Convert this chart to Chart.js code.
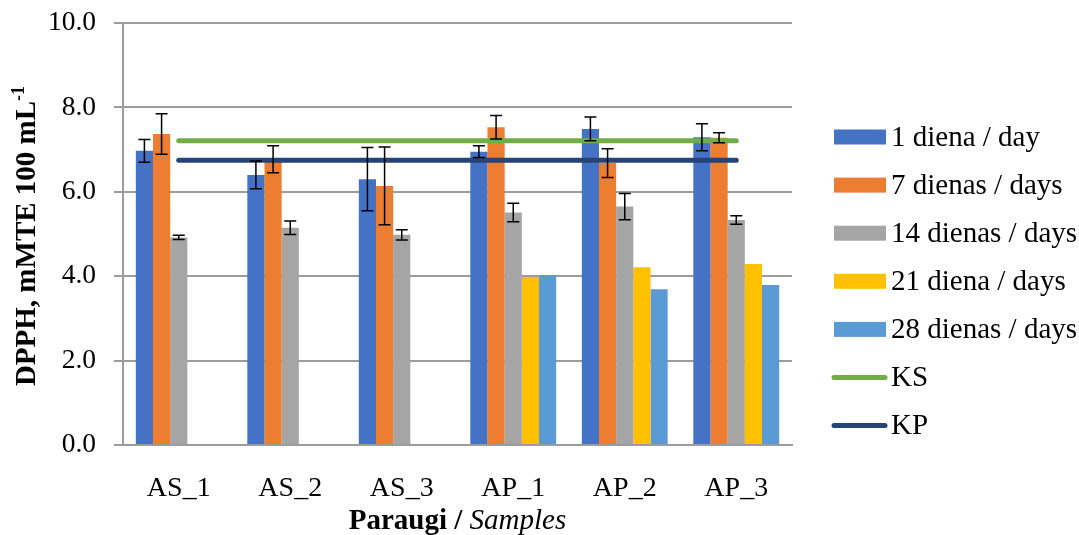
<!DOCTYPE html>
<html>
<head>
<meta charset="utf-8">
<script src="https://cdn.jsdelivr.net/npm/chart.js@4/dist/chart.umd.min.js"></script>
<style>
  body { margin: 0; background: #fff; }
  #wrap { width: 1079px; height: 535px; position: relative; }
</style>
</head>
<body>
<div id="wrap"><canvas id="dpphChart"></canvas></div>
<script>
// Samples on the x axis
const samples = ['AS_1', 'AS_2', 'AS_3', 'AP_1', 'AP_2', 'AP_3'];

// Means per storage time
const day1 = [6.97, 6.40, 6.30, 6.95, 7.49, 7.29];
const day7 = [7.37, 6.77, 6.14, 7.53, 6.68, 7.28];
const day14 = [4.92, 5.15, 4.98, 5.51, 5.65, 5.33];
const day21 = [null, null, null, 3.98, 4.21, 4.29];
const day28 = [null, null, null, 4.03, 3.69, 3.79];

// Error bar half widths (+/-)
const day1Err = [0.27, 0.33, 0.75, 0.14, 0.28, 0.32];
const day7Err = [0.48, 0.32, 0.92, 0.28, 0.34, 0.12];
const day14Err = [0.05, 0.16, 0.12, 0.22, 0.31, 0.10];

// Control levels
const ksLevel = [7.21, 7.21, 7.21, 7.21, 7.21, 7.21];
const kpLevel = [6.75, 6.75, 6.75, 6.75, 6.75, 6.75];

const yTicks = [0, 2, 4, 6, 8, 10];

const FONT = "'Liberation Serif', 'Times New Roman', serif";
const GRID = '#9c9c9c';

// Draws +/- error bars on top of the bars
const errorBars = {
  id: 'errorBars',
  afterDatasetsDraw(chart) {
    const { ctx } = chart;
    const yScale = chart.scales.y;
    ctx.save();
    ctx.strokeStyle = '#000';
    ctx.lineWidth = 1.5;
    chart.data.datasets.forEach((ds, i) => {
      if (!ds.errors) return;
      const meta = chart.getDatasetMeta(i);
      meta.data.forEach((bar, j) => {
        const v = ds.data[j];
        const e = ds.errors[j];
        if (v == null || e == null) return;
        const top = yScale.getPixelForValue(v + e);
        const bottom = yScale.getPixelForValue(v - e);
        const x = bar.x;
        ctx.beginPath();
        ctx.moveTo(x, top);
        ctx.lineTo(x, bottom);
        ctx.moveTo(x - 6, top);
        ctx.lineTo(x + 6, top);
        ctx.moveTo(x - 6, bottom);
        ctx.lineTo(x + 6, bottom);
        ctx.stroke();
      });
    });
    ctx.restore();
  },
};

// Axis titles (mixed bold / italic and a superscript) and the legend
const decorations = {
  id: 'decorations',
  afterDraw(chart) {
    const { ctx, chartArea } = chart;
    ctx.save();
    ctx.fillStyle = '#000';
    ctx.textBaseline = 'alphabetic';

    // x title
    const boldPart = 'Paraugi / ';
    const italicPart = 'Samples';
    ctx.font = `bold 29px ${FONT}`;
    const w1 = ctx.measureText(boldPart).width;
    ctx.font = `italic 29px ${FONT}`;
    const w2 = ctx.measureText(italicPart).width;
    const cx = (chartArea.left + chartArea.right) / 2;
    const x0 = cx - (w1 + w2) / 2;
    ctx.font = `bold 29px ${FONT}`;
    ctx.textAlign = 'left';
    ctx.fillText(boldPart, x0, 529);
    ctx.font = `italic 29px ${FONT}`;
    ctx.fillText(italicPart, x0 + w1, 529);

    // y title, rotated
    const mainText = 'DPPH, mMTE 100 mL';
    const supText = '-1';
    ctx.font = `bold 29px ${FONT}`;
    const m1 = ctx.measureText(mainText).width;
    ctx.font = `bold 18px ${FONT}`;
    const m2 = ctx.measureText(supText).width;
    ctx.translate(35, 236);
    ctx.rotate(-Math.PI / 2);
    const start = -(m1 + m2) / 2;
    ctx.font = `bold 29px ${FONT}`;
    ctx.fillText(mainText, start, 0);
    ctx.font = `bold 18px ${FONT}`;
    ctx.fillText(supText, start + m1, -11);
    ctx.setTransform(1, 0, 0, 1, 0, 0);

    // legend
    const items = chart.data.datasets
      .slice()
      .sort((a, b) => a.legendIndex - b.legendIndex);
    ctx.font = `29px ${FONT}`;
    ctx.textBaseline = 'middle';
    items.forEach((ds, k) => {
      const y = 137 + k * 48.1;
      if (ds.type === 'line') {
        ctx.strokeStyle = ds.borderColor;
        ctx.lineWidth = 5;
        ctx.lineCap = 'round';
        ctx.beginPath();
        ctx.moveTo(834, y);
        ctx.lineTo(885, y);
        ctx.stroke();
      } else {
        ctx.fillStyle = ds.backgroundColor;
        ctx.fillRect(834, y - 7.5, 52, 15);
      }
      ctx.fillStyle = '#000';
      ctx.fillText(ds.label, 891, y + 1);
    });
    ctx.restore();
  },
};

const ctx = document.getElementById('dpphChart').getContext('2d');
new Chart(ctx, {
  data: {
    labels: samples,
    datasets: [
      {
        type: 'line', label: 'KS', data: ksLevel, legendIndex: 5, order: 0,
        borderColor: '#70AD47', borderWidth: 5, borderCapStyle: 'round', pointRadius: 0,
      },
      {
        type: 'line', label: 'KP', data: kpLevel, legendIndex: 6, order: 0,
        borderColor: '#264478', borderWidth: 5, borderCapStyle: 'round', pointRadius: 0,
      },
      { type: 'bar', label: '1 diena / day', data: day1, errors: day1Err, legendIndex: 0, order: 1, backgroundColor: '#4472C4' },
      { type: 'bar', label: '7 dienas / days', data: day7, errors: day7Err, legendIndex: 1, order: 1, backgroundColor: '#ED7D31' },
      { type: 'bar', label: '14 dienas / days', data: day14, errors: day14Err, legendIndex: 2, order: 1, backgroundColor: '#A5A5A5' },
      { type: 'bar', label: '21 diena / days', data: day21, legendIndex: 3, order: 1, backgroundColor: '#FFC000' },
      { type: 'bar', label: '28 dienas / days', data: day28, legendIndex: 4, order: 1, backgroundColor: '#5B9BD5' },
    ],
  },
  options: {
    responsive: true,
    maintainAspectRatio: false,
    animation: false,
    layout: { padding: { left: 0, right: 287, top: 23, bottom: 0 } },
    datasets: {
      bar: { categoryPercentage: 0.77, barPercentage: 1.0 },
    },
    plugins: {
      legend: { display: false },
      tooltip: { enabled: false },
    },
    scales: {
      x: {
        offset: true,
        grid: { display: false },
        border: { display: true, color: GRID, width: 2 },
        ticks: {
          color: '#000',
          padding: 19,
          font: { family: FONT, size: 28 },
        },
        afterFit: scale => { scale.height = 90; },
      },
      y: {
        min: 0,
        max: 10,
        afterBuildTicks: scale => { scale.ticks = yTicks.map(v => ({ value: v })); },
        grid: { color: GRID, lineWidth: 2, drawTicks: true, tickLength: 9 },
        border: { display: true, color: GRID, width: 2 },
        ticks: {
          color: '#000',
          padding: 18,
          font: { family: FONT, size: 27.5 },
          callback: v => Number(v).toFixed(1),
        },
        afterFit: scale => {
          scale.width = 123;
          // tick padding should not push the plot area down
          scale.paddingTop = 0;
          scale.paddingBottom = 0;
        },
      },
    },
  },
  plugins: [errorBars, decorations],
});
</script>
</body>
</html>
